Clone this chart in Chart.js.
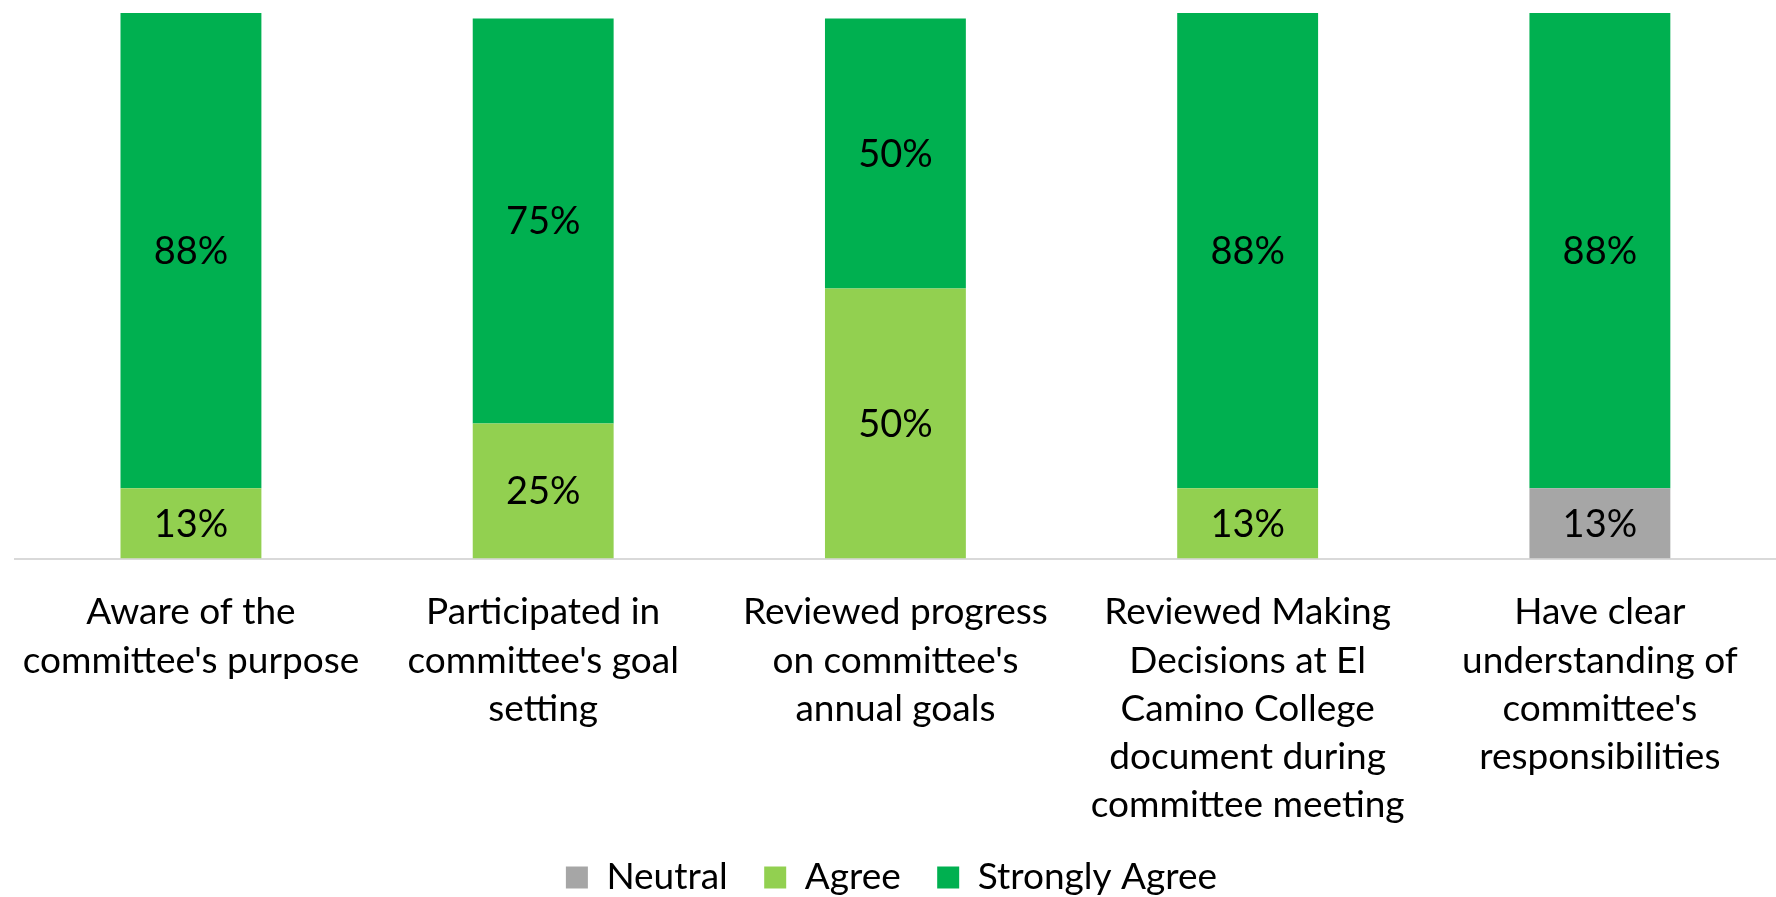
<!DOCTYPE html>
<html>
<head>
<meta charset="utf-8">
<script src="https://cdn.jsdelivr.net/npm/chart.js@4.4.1/dist/chart.umd.min.js"></script>
<style>
  html, body { margin: 0; padding: 0; background: #fff; }
  #wrap { width: 1776px; height: 897px; }
</style>
</head>
<body>
<div id="wrap"><canvas id="chart" width="1776" height="897"></canvas></div>
<script>
const categories = [
    ["Aware of the", "committee's purpose"],
    ["Participated in", "committee's goal", "setting"],
    ["Reviewed progress", "on committee's", "annual goals"],
    ["Reviewed Making", "Decisions at El", "Camino College", "document during", "committee meeting"],
    ["Have clear", "understanding of", "committee's", "responsibilities"]
];
const neutral = [0, 0, 0, 0, 0.13];
const agree = [0.13, 0.25, 0.50, 0.13, 0];
const stronglyAgree = [0.88, 0.75, 0.50, 0.88, 0.88];

const FONT = "Lato, 'Open Sans', sans-serif";

// draws the percent in the middle of each segment
const segmentLabels = {
    id: "segmentLabels",
    afterDatasetsDraw(chart) {
        const ctx = chart.ctx;
        ctx.save();
        ctx.font = "38px " + FONT;
        ctx.fillStyle = "#000";
        ctx.textAlign = "center";
        ctx.textBaseline = "middle";
        chart.data.datasets.forEach((ds, i) => {
            const meta = chart.getDatasetMeta(i);
            meta.data.forEach((bar, j) => {
                const v = ds.data[j];
                if (!v) return;
                ctx.fillText(Math.round(v * 100) + "%", bar.x, (bar.y + bar.base) / 2 + 1);
            });
        });
        ctx.restore();
    }
};

new Chart(document.getElementById("chart"), {
    type: "bar",
    data: {
        labels: categories,
        datasets: [
            { label: "Neutral", data: neutral, backgroundColor: "#a6a6a6" },
            { label: "Agree", data: agree, backgroundColor: "#92d050" },
            { label: "Strongly Agree", data: stronglyAgree, backgroundColor: "#00b050" }
        ]
    },
    options: {
        responsive: false,
        animation: false,
        layout: { padding: { top: 13, left: 7, right: 0, bottom: 0 } },
        datasets: {
            bar: { barPercentage: 0.4, categoryPercentage: 1 }
        },
        plugins: {
            legend: {
                position: "bottom",
                maxHeight: 46,
                labels: {
                    font: { family: FONT, size: 37 },
                    color: "#000",
                    boxWidth: 22,
                    boxHeight: 22,
                    padding: 8,
                    // a little extra room between legend entries
                    generateLabels(chart) {
                        const items = Chart.defaults.plugins.legend.labels.generateLabels(chart);
                        items.forEach((it, i) => {
                            if (i < items.length - 1) it.text += "   ";
                        });
                        return items;
                    }
                }
            },
            tooltip: { enabled: false }
        },
        scales: {
            x: {
                stacked: true,
                grid: { display: false },
                border: { display: true, color: "#d9d9d9", width: 2 },
                ticks: {
                    font: { family: FONT, size: 37, lineHeight: 1.3 },
                    color: "#000",
                    padding: 22,
                    maxRotation: 0,
                    autoSkip: false
                }
            },
            y: {
                stacked: true,
                display: false,
                min: 0,
                max: 1.01
            }
        }
    },
    plugins: [segmentLabels]
});
</script>
</body>
</html>
